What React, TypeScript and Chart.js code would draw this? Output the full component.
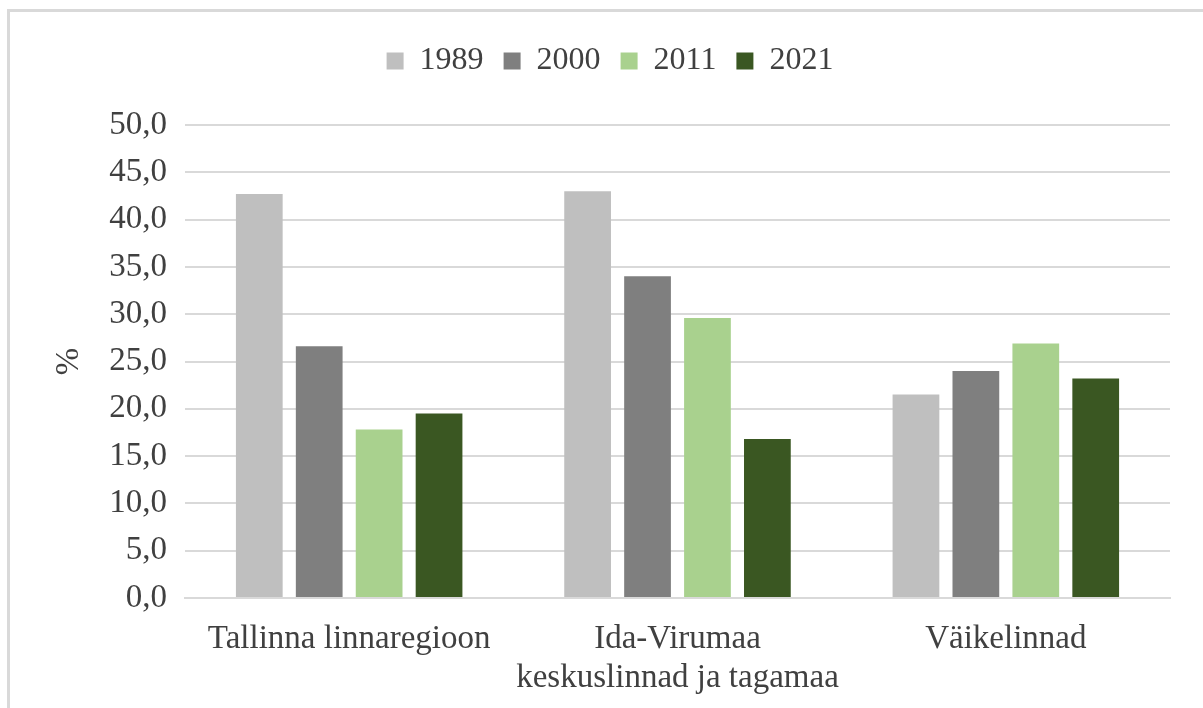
import React, { useEffect, useRef } from "react";
import { Chart, registerables } from "chart.js";

Chart.register(...registerables);

const categories: (string | string[])[] = [
  "Tallinna linnaregioon",
  ["Ida-Virumaa", "keskuslinnad ja tagamaa"],
  "Väikelinnad",
];
const seriesNames = ["1989", "2000", "2011", "2021"];
const values1989 = [42.7, 43.0, 21.5];
const values2000 = [26.6, 34.0, 24.0];
const values2011 = [17.8, 29.6, 26.9];
const values2021 = [19.5, 16.8, 23.2];
const seriesColors = ["#BFBFBF", "#7F7F7F", "#A9D18E", "#3A5722"];
const yTicks = { min: 0, max: 50, step: 5 };

const FONT = "'Liberation Serif', 'Times New Roman', serif";
const TEXT = "#404040";

export default function App() {
  const ref = useRef<HTMLCanvasElement>(null);
  useEffect(() => {
    if (!ref.current) return;
    const allValues = [values1989, values2000, values2011, values2021];
    const legendPad = {
      id: "legendPad",
      beforeInit(chart: any) {
        const legend = chart.legend;
        if (!legend) return;
        const orig = legend.fit;
        legend.fit = function () {
          orig.call(legend);
          this.height += 38;
        };
      },
    };
    const chart = new Chart(ref.current, {
      type: "bar",
      data: {
        labels: categories as any,
        datasets: seriesNames.map((name, i) => ({
          label: name,
          data: allValues[i],
          backgroundColor: seriesColors[i],
          borderWidth: 0,
          barPercentage: 0.78,
          categoryPercentage: 0.73,
        })),
      },
      plugins: [legendPad],
      options: {
        animation: false,
        responsive: false,
        maintainAspectRatio: false,
        layout: { padding: { left: 40, right: 46, top: 13, bottom: 0 } },
        plugins: {
          legend: {
            position: "top",
            labels: {
              font: { family: FONT, size: 32 },
              color: TEXT,
              boxWidth: 17,
              boxHeight: 17,
              padding: 20,
            },
          },
          tooltip: { enabled: false },
        },
        scales: {
          x: {
            grid: { display: false },
            border: { display: true, color: "#D9D9D9", width: 2 },
            ticks: {
              font: { family: FONT, size: 33, lineHeight: 1.18 },
              color: TEXT,
              padding: 14,
              maxRotation: 0,
              autoSkip: false,
            },
            afterFit(scale: any) {
              scale.height = 124;
            },
          },
          y: {
            min: yTicks.min,
            max: yTicks.max,
            grid: { color: "#D9D9D9", lineWidth: 2, drawTicks: false },
            border: { display: false },
            title: {
              display: true,
              text: "%",
              font: { family: FONT, size: 33 },
              color: TEXT,
              padding: 0,
            },
            ticks: {
              stepSize: yTicks.step,
              font: { family: FONT, size: 33 },
              color: TEXT,
              padding: 18,
              callback: (v: any) => Number(v).toFixed(1).replace(".", ","),
            },
            afterFit(scale: any) {
              scale.width = 135;
            },
          },
        },
      },
    });
    return () => chart.destroy();
  }, []);
  return (
    <div
      style={{
        position: "absolute",
        left: 7,
        top: 9,
        width: 1212,
        height: 720,
        border: "3px solid #D9D9D9",
        boxSizing: "border-box",
        background: "#fff",
      }}
    >
      <canvas ref={ref} width={1206} height={710} style={{ display: "block" }} />
    </div>
  );
}
